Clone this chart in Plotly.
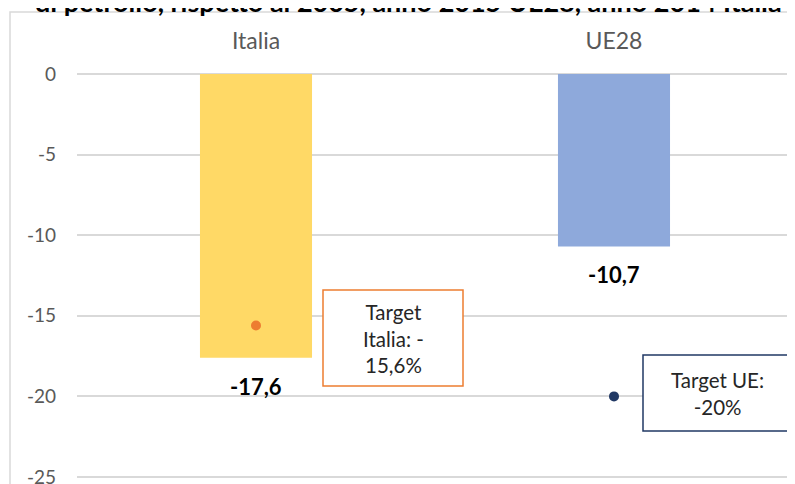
import plotly.graph_objects as go

categories = ["Italia", "UE28"]
values = [-17.6, -10.7]
targets = [-15.6, -20.0]
bar_colors = ["#FFD966", "#8EA9DB"]
target_colors = ["#ED7D31", "#203864"]
target_texts = ["Target<br>Italia: -<br>15,6%", "Target UE:<br>-20%"]
y_ticks = [0, -5, -10, -15, -20, -25]
title_text = "di petrolio, rispetto al 2005, anno 2015 UE28, anno 2014 Italia"

# page body has an 8px margin: figure pixel = screen pixel - 8
OFF = 8
W, H = 795, 484
ML = 77 - OFF          # plot left at screen x=77
MT = 74 - OFF          # zero line at screen y=74
PLOT_RIGHT = 793 - OFF # plot right at screen x=793
PLOT_BOTTOM = 480 - OFF
MR = W - PLOT_RIGHT
MB = H - PLOT_BOTTOM
PW, PH = W - ML - MR, H - MT - MB
UNIT_PX = 403 / 25.0   # 0 at y=74, -25 at y=477 on screen
Y_BOTTOM = -PH / UNIT_PX

def sx(p):
    return (p - OFF - ML) / PW

def sy(p):
    return 1 - (p - OFF - MT) / PH

FONT = "Lato"
GRAY = "#595959"

fig = go.Figure()
fig.add_trace(go.Bar(
    x=categories, y=values, marker=dict(color=bar_colors, line=dict(width=0)),
    hoverinfo="skip", showlegend=False,
))
fig.add_trace(go.Scatter(
    x=categories, y=targets, mode="markers",
    marker=dict(color=target_colors, size=10),
    cliponaxis=False, showlegend=False, hoverinfo="skip",
))

annotations = []
for c, v in zip(categories, values):
    annotations.append(dict(
        x=c, y=v, xref="x", yref="y", text="<b>" + f"{v:.1f}".replace(".", ",") + "</b>",
        showarrow=False, yanchor="top", yshift=-13,
        font=dict(family=FONT, size=22, color="#000000"),
    ))

# target boxes (screen pixel bounds: left, right, top, bottom)
box_bounds = [(323, 463, 290, 386), (643, 792, 355, 431)]
shapes = [dict(
    type="rect", xref="paper", yref="paper",
    x0=sx(10), x1=sx(W + 30), y0=sy(H + 30), y1=sy(12),
    line=dict(color="#D9D9D9", width=1.5), fillcolor="rgba(0,0,0,0)", layer="below",
)]
for (l, r, t, b), col, txt in zip(box_bounds, target_colors, target_texts):
    shapes.append(dict(
        type="rect", xref="paper", yref="paper",
        x0=sx(l), x1=sx(r), y0=sy(b), y1=sy(t),
        line=dict(color=col, width=1.5), fillcolor="white", layer="above",
    ))
    annotations.append(dict(
        x=sx((l + r) / 2), y=sy((t + b) / 2), xref="paper", yref="paper", text=txt,
        showarrow=False, xanchor="center", yanchor="middle", align="center",
        font=dict(family=FONT, size=20.5, color="#262626"),
    ))

# cut-off title (the reference shows only its lower part)
annotations.append(dict(
    x=sx(408.5), y=sy(20), xref="paper", yref="paper", text="<b>" + title_text + "</b>",
    showarrow=False, xanchor="center", yanchor="bottom",
    font=dict(family=FONT, size=27, color="#000000"),
))

fig.update_layout(
    width=W, height=H,
    margin=dict(l=ML, r=MR, t=MT, b=MB, pad=0, autoexpand=False),
    paper_bgcolor="white", plot_bgcolor="white",
    bargap=0.687,
    font=dict(family=FONT, color=GRAY),
    annotations=annotations,
    shapes=shapes,
    xaxis=dict(
        type="category", range=[-0.5, 1.5], side="top", automargin=False,
        showgrid=False, zeroline=False, showline=False, ticks="",
        ticklabelstandoff=19,
        tickfont=dict(family=FONT, size=23, color=GRAY),
    ),
    yaxis=dict(
        range=[Y_BOTTOM, 0], tickvals=y_ticks, ticktext=[str(t) for t in y_ticks],
        automargin=False,
        showgrid=True, gridcolor="#D9D9D9", gridwidth=1.5,
        zeroline=True, zerolinecolor="#D9D9D9", zerolinewidth=1.5,
        showline=False, ticks="", ticklabelstandoff=20,
        tickfont=dict(family=FONT, size=19, color=GRAY),
    ),
)

fig.write_html("out.html")
